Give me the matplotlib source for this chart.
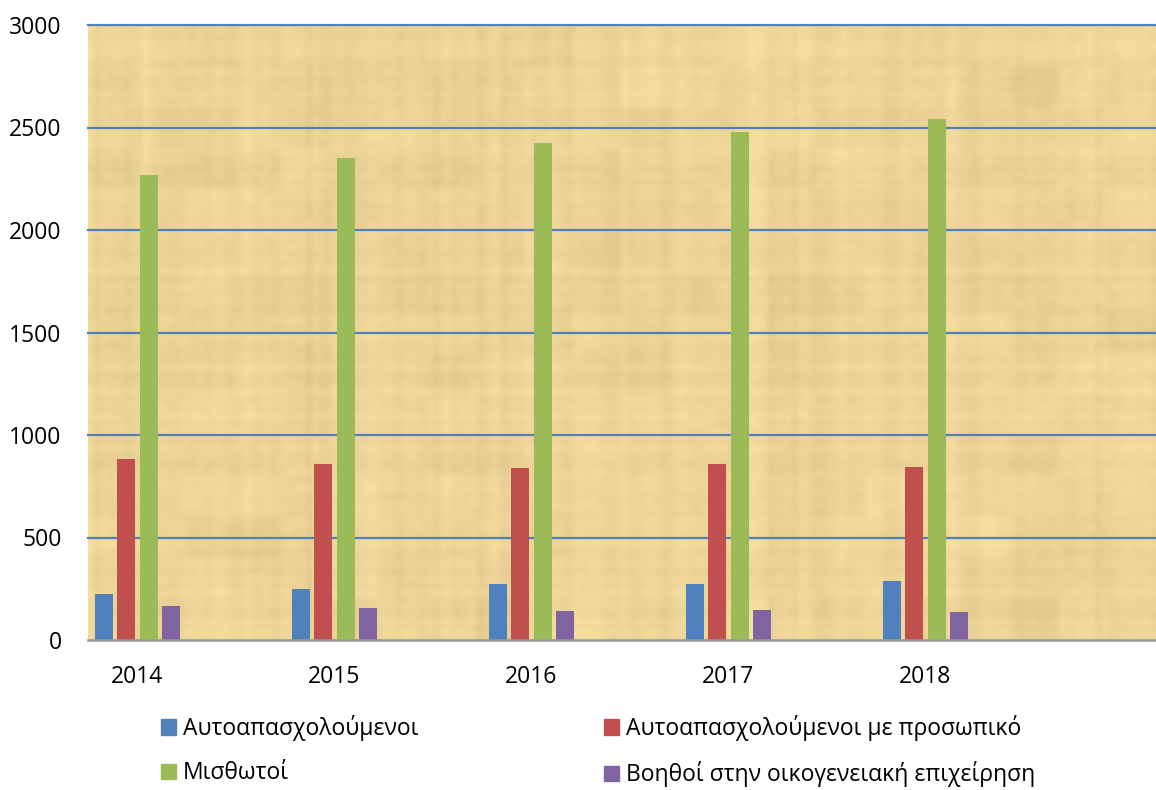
import numpy as np
import matplotlib.pyplot as plt
from matplotlib.patches import Patch

years = ['2014', '2015', '2016', '2017', '2018']
self_employed = [224, 248, 271, 274, 287]
self_employed_staff = [882, 858, 838, 858, 846]
employees = [2266, 2349, 2422, 2476, 2542]
family_helpers = [167, 157, 142, 147, 135]

series_names = ['Αυτοαπασχολούμενοι', 'Αυτοαπασχολούμενοι με προσωπικό',
                'Μισθωτοί', 'Βοηθοί στην οικογενειακή επιχείρηση']
colors = ['#4F81BD', '#C0504D', '#9BBB59', '#8064A2']

plt.rcParams['font.family'] = ['Open Sans', 'DejaVu Sans']

fig = plt.figure(figsize=(11.56, 7.9), dpi=100)
ax = fig.add_axes([88 / 1156, 150 / 790, 1 - 88 / 1156, 615 / 790])

# papyrus-like background (decoration only)
rng = np.random.default_rng(3)
h, w = 120, 176
base = np.ones((h, w, 3)) * np.array([236, 212, 152]) / 255
fib_v = np.repeat(rng.normal(0, 1, (1, w)), h, axis=0)
fib_h = np.repeat(rng.normal(0, 1, (h, 1)), w, axis=1)
blot = np.kron(rng.normal(0, 1, (h // 8, w // 8)), np.ones((8, 8)))
noise = 0.012 * fib_v + 0.010 * fib_h + 0.009 * blot + 0.008 * rng.normal(0, 1, (h, w))
tex = np.clip(base + noise[..., None] * np.array([1.0, 1.0, 0.9]), 0, 1)
ax.imshow(tex, extent=[-0.251, 5.17, 0, 3000], aspect='auto', zorder=0,
          interpolation='bicubic')

x = np.arange(len(years))
pitch = 0.113
width = 0.0914
data = [self_employed, self_employed_staff, employees, family_helpers]
for k, (vals, c) in enumerate(zip(data, colors)):
    ax.bar(x + (k - 1.5) * pitch, vals, width=width, color=c, zorder=3)

ax.set_xlim(-0.251, 5.17)
ax.set_ylim(0, 3000)
ax.set_yticks(range(0, 3001, 500))
ax.set_xticks(x)
ax.set_xticklabels(years)
ax.tick_params(axis='both', length=0, labelsize=16.5, colors='black')
ax.tick_params(axis='y', pad=19)
ax.tick_params(axis='x', pad=18)

for yv in range(500, 3001, 500):
    ax.axhline(yv, color='#4F81BD', lw=1.6, zorder=2, clip_on=False)

for s in ['top', 'right', 'left']:
    ax.spines[s].set_visible(False)
ax.spines['bottom'].set_color('#999999')
ax.spines['bottom'].set_linewidth(1.8)
ax.spines['bottom'].set_zorder(4)

order = [0, 2, 1, 3]
handles = [Patch(color=colors[i]) for i in order]
labels = [series_names[i] for i in order]
fig.legend(handles, labels, ncol=2, loc='upper left',
           bbox_to_anchor=(152 / 1156, 1 - 706 / 790), frameon=False,
           fontsize=16.5, handlelength=0.65, handleheight=0.65,
           handletextpad=0.3, columnspacing=8.1, labelspacing=0.88,
           borderaxespad=0)

fig.savefig('out.png', dpi=100)
